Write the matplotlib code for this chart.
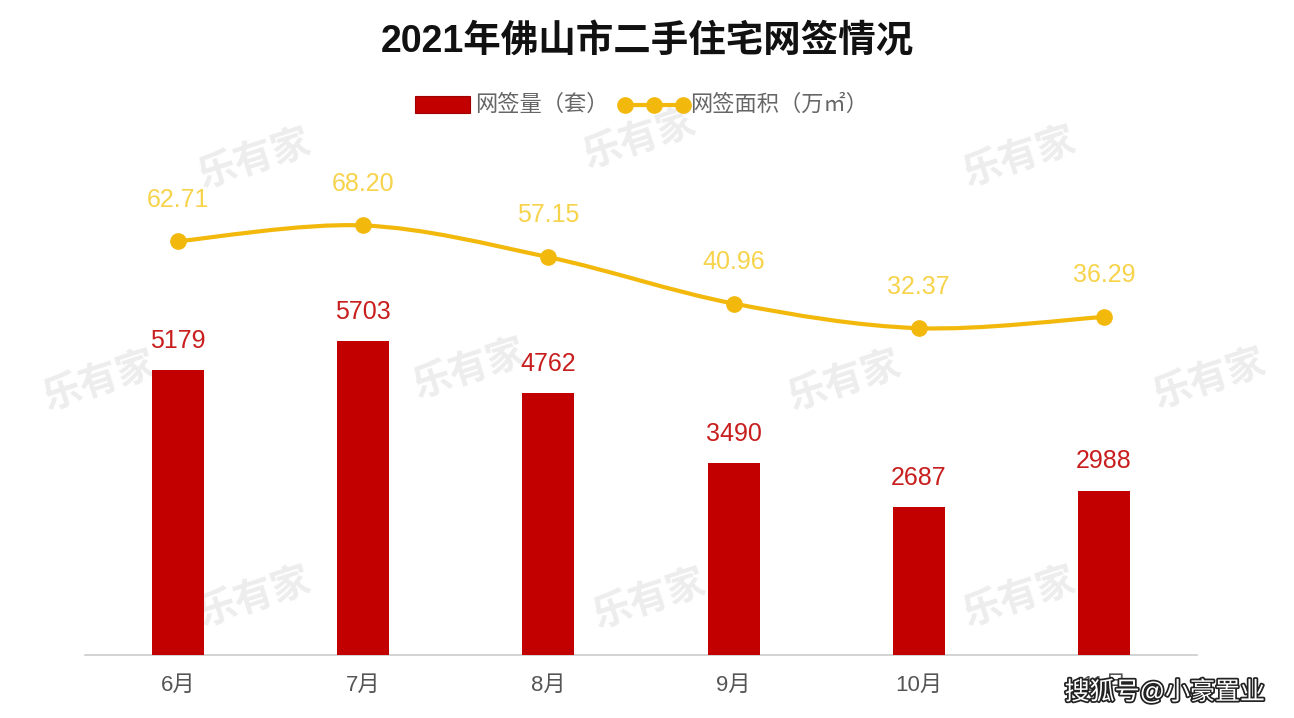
import matplotlib
matplotlib.use("Agg")
import matplotlib.pyplot as plt
import numpy as np
from matplotlib.path import Path
from matplotlib.patches import PathPatch
import matplotlib.patheffects as pe
from matplotlib.lines import Line2D
from matplotlib.patches import Rectangle

plt.rcParams['font.family'] = ['Liberation Sans', 'Noto Sans CJK SC', 'DejaVu Sans']

months = ['6月', '7月', '8月', '9月', '10月', '11月']
units = [5179, 5703, 4762, 3490, 2687, 2988]
area = [62.71, 68.20, 57.15, 40.96, 32.37, 36.29]
area_labels = ['62.71', '68.20', '57.15', '40.96', '32.37', '36.29']

W, H = 1294, 718
fig = plt.figure(figsize=(W / 100, H / 100), dpi=100)
fig.patch.set_facecolor('white')
left, right, bottom, top = 85.5, 1196.5, 655, 105
ax = fig.add_axes([left / W, (H - bottom) / H, (right - left) / W, (bottom - top) / H])
ax2 = ax.twinx()
ax.patch.set_alpha(0)
ax2.patch.set_alpha(0)

bar_color = '#c30000'
line_color = '#f2b90c'
label_line = '#f7d34c'

x = np.arange(len(months))
ax.bar(x, units, width=0.28, color=bar_color, zorder=3)
ax.set_xlim(-0.5, len(months) - 0.5)
ax.set_ylim(0, 10000)
ax2.set_ylim(-81.6, 110.2)

for xi, v in zip(x, units):
    ax.annotate(str(v), (xi, v), xytext=(0, 21), textcoords='offset points',
                ha='center', va='center', fontsize=18, color='#c81e1e', zorder=5)

# smooth curve through the points (Catmull-Rom rendered as Bezier path)
pts = np.column_stack([x, area]).astype(float)
verts = [tuple(pts[0])]
codes = [Path.MOVETO]
n = len(pts)
for i in range(n - 1):
    p0 = pts[i - 1] if i > 0 else pts[i]
    p1 = pts[i]
    p2 = pts[i + 1]
    p3 = pts[i + 2] if i + 2 < n else pts[i + 1]
    c1 = p1 + (p2 - p0) / 6
    c2 = p2 - (p3 - p1) / 6
    verts += [tuple(c1), tuple(c2), tuple(p2)]
    codes += [Path.CURVE4] * 3
ax2.add_patch(PathPatch(Path(verts, codes), fill=False, edgecolor=line_color, lw=3, zorder=4))
ax2.plot(x, area, 'o', color=line_color, markersize=11, zorder=5, linestyle='none')
for xi, v, s in zip(x, area, area_labels):
    ax2.annotate(s, (xi, v), xytext=(0, 30), textcoords='offset points',
                 ha='center', va='center', fontsize=18, color=label_line, zorder=5)

for a in (ax, ax2):
    for sp in a.spines.values():
        sp.set_visible(False)
    a.set_yticks([])
ax.spines['bottom'].set_visible(True)
ax.spines['bottom'].set_color('#cccccc')
ax.spines['bottom'].set_linewidth(1.2)
ax.set_xticks(x)
ax.set_xticklabels(months, fontsize=16, color='#555555')
ax.tick_params(axis='x', length=0, pad=14)

# title
fig.text(0.5, 1 - 42 / H, '2021年佛山市二手住宅网签情况', ha='center', va='center',
         fontsize=27, fontweight='bold', color='#111111')

# legend (manual)
ly = 1 - 105 / H
fig.patches.append(Rectangle((415 / W, ly - 8 / H), 55 / W, 17 / H, transform=fig.transFigure,
                             facecolor=bar_color, edgecolor='#a00000', lw=0.8))
fig.text(475 / W, ly, '网签量（套）', ha='left', va='center', fontsize=16, color='#666666')
fig.lines.append(Line2D([623 / W, 685 / W], [ly, ly], transform=fig.transFigure,
                        color=line_color, lw=3))
fig.lines.append(Line2D([625 / W, 654 / W, 683 / W], [ly, ly, ly], transform=fig.transFigure,
                        color=line_color, marker='o', markersize=11, linestyle='none'))
fig.text(690 / W, ly, '网签面积（万㎡）', ha='left', va='center', fontsize=16, color='#666666')

# watermarks
for (wx, wy) in [(255, 160), (640, 140), (1020, 158), (100, 382), (470, 370), (845, 382),
                 (1210, 380), (255, 598), (650, 600), (1020, 598)]:
    fig.text(wx / W, 1 - wy / H, '乐有家', ha='center', va='center', fontsize=28,
             color='#ededed', rotation=18, fontweight='bold', zorder=-5)

fig.text(1265 / W, 1 - 692 / H, '搜狐号@小豪置业', ha='right', va='center', fontsize=18,
         color='white', path_effects=[pe.withStroke(linewidth=2.5, foreground='#222222')], zorder=10)

fig.savefig('out.png', dpi=100, facecolor='white')
